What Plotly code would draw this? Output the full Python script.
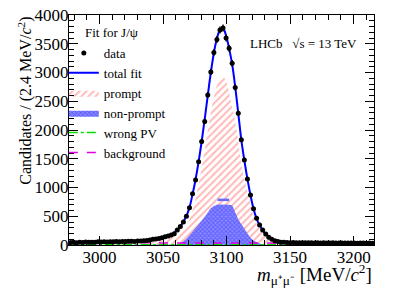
import numpy as np
import plotly.graph_objects as go

# ---- data (bin centres of 2.4 MeV bins, 2976-3216 MeV) ----
bin_lo = 2976.0
bin_w = 2.4
n_bins = 100
mass = bin_lo + bin_w * (np.arange(n_bins) + 0.5)

data_counts = [
    42, 47, 40, 49, 44, 52, 46, 50, 48, 55,
    51, 57, 53, 58, 55, 61, 57, 62, 59, 64,
    66, 63, 70, 68, 74, 79, 86, 99, 105, 112,
    127, 144, 156, 172, 195, 261, 320, 400, 500, 650,
    890, 1130, 1450, 1800, 2150, 2610, 3010, 3350, 3575, 3740,
    3775, 3600, 3420, 3160, 2740, 2290, 1830, 1480, 1150, 870,
    630, 465, 350, 260, 190, 136, 100, 76, 60, 50,
    46, 44, 41, 43, 39, 40, 38, 41, 37, 39,
    36, 38, 35, 37, 36, 34, 37, 35, 33, 36,
    34, 35, 33, 34, 32, 35, 33, 31, 34, 32,
]

total_fit = [
    45, 45, 46, 46, 47, 47, 48, 48, 49, 50,
    50, 51, 52, 53, 54, 55, 56, 57, 58, 60,
    62, 64, 67, 70, 74, 79, 85, 92, 101, 112,
    126, 142, 160, 183, 215, 260, 325, 405, 505, 650,
    880, 1140, 1450, 1800, 2190, 2600, 3000, 3340, 3590, 3740,
    3770, 3640, 3420, 3140, 2750, 2290, 1830, 1470, 1150, 870,
    630, 460, 345, 255, 188, 138, 102, 78, 62, 52,
    47, 45, 43, 42, 41, 40, 39, 39, 38, 38,
    37, 37, 36, 36, 36, 35, 35, 35, 34, 34,
    34, 34, 33, 33, 33, 33, 32, 32, 32, 32,
]

prompt = [
    5, 5, 6, 6, 7, 7, 8, 8, 9, 10,
    10, 11, 12, 13, 14, 15, 16, 17, 18, 20,
    20, 22, 25, 28, 32, 37, 43, 50, 59, 70,
    84, 100, 118, 141, 173, 210, 265, 305, 355, 440,
    610, 810, 1060, 1340, 1660, 1990, 2300, 2580, 2780, 2900,
    2930, 2850, 2650, 2400, 2150, 1800, 1415, 1155, 925, 710,
    515, 375, 285, 210, 149, 101, 65, 41, 25, 15,
    10, 8, 6, 6, 5, 5, 5, 4, 4, 4,
    4, 4, 3, 3, 3, 3, 3, 3, 3, 3,
    2, 2, 2, 2, 2, 2, 2, 2, 2, 2,
]

non_prompt = [
    2, 2, 2, 2, 2, 2, 2, 2, 2, 2,
    2, 2, 2, 2, 2, 2, 2, 2, 2, 2,
    2, 2, 2, 2, 2, 2, 2, 2, 2, 2,
    2, 2, 2, 2, 2, 10, 20, 60, 110, 170,
    230, 290, 350, 420, 490, 570, 640, 680, 700, 705,
    705, 700, 700, 690, 560, 450, 360, 280, 190, 125,
    80, 50, 25, 10, 4, 2, 2, 2, 2, 2,
    2, 2, 2, 2, 2, 2, 2, 2, 2, 2,
    2, 2, 2, 2, 2, 2, 2, 2, 2, 2,
    2, 2, 2, 2, 2, 2, 2, 2, 2, 2,
]

# small detached cap of the non-prompt peak
np_cap_mass = [3093.0, 3102.0]
np_cap_vals = [785, 785]

bkg_mass = [2976.0, 3216.0]
bkg_vals = [40, 29]

wrongpv_mass = [2976.0, 3216.0]
wrongpv_vals = [6, 5]

err = np.sqrt(np.array(data_counts, dtype=float))

serif = "Liberation Serif"

fig = go.Figure()

fig.add_trace(go.Scatter(
    x=mass, y=prompt, mode="lines", line=dict(color="rgba(0,0,0,0)", width=0),
    fill="tozeroy", fillcolor="rgba(255,255,255,0)",
    fillpattern=dict(shape="/", fgcolor="#ff7070", bgcolor="rgba(255,255,255,0)",
                     size=5, solidity=0.4),
    name="prompt", line_shape="spline"))

fig.add_trace(go.Scatter(
    x=mass, y=non_prompt, mode="lines", line=dict(color="rgba(0,0,0,0)", width=0),
    fill="tozeroy", fillcolor="#8080ff",
    fillpattern=dict(shape="x", fgcolor="#3030ff", bgcolor="#8a8aff",
                     size=3, solidity=0.5),
    name="non-prompt"))

fig.add_trace(go.Scatter(
    x=np_cap_mass, y=np_cap_vals, mode="lines",
    line=dict(color="#6a6aff", width=2.5), showlegend=False, hoverinfo="skip"))

fig.add_trace(go.Scatter(
    x=wrongpv_mass, y=wrongpv_vals, mode="lines",
    line=dict(color="#00e000", width=1.5, dash="dashdot"), name="wrong PV"))

fig.add_trace(go.Scatter(
    x=bkg_mass, y=bkg_vals, mode="lines",
    line=dict(color="#e000e0", width=1.5, dash="dash"), name="background"))

fig.add_trace(go.Scatter(
    x=mass, y=total_fit, mode="lines", line=dict(color="#0000ff", width=2),
    line_shape="spline", name="total fit"))

fig.add_trace(go.Scatter(
    x=mass, y=data_counts, mode="markers",
    marker=dict(color="black", size=5),
    error_y=dict(type="data", array=err, color="black", thickness=1.3, width=0),
    error_x=dict(type="constant", value=bin_w / 2, color="black", thickness=1.3, width=0),
    name="data"))

fig.update_layout(
    width=407, height=292,
    margin=dict(l=69, r=33, t=15, b=47, autoexpand=False),
    paper_bgcolor="white", plot_bgcolor="white",
    font=dict(family=serif, size=16, color="black"),
    showlegend=True,
    legend=dict(
        x=-0.017, y=0.9, xanchor="left", yanchor="top",
        bgcolor="rgba(0,0,0,0)", borderwidth=0,
        font=dict(family=serif, size=13),
        traceorder="normal", itemwidth=30, tracegroupgap=0,
    ),
    xaxis=dict(
        range=[2976, 3216], showgrid=False, zeroline=False, automargin=False,
        showline=True, linecolor="black", linewidth=1, mirror="allticks",
        ticks="inside", ticklen=9, tickcolor="black",
        tick0=3000, dtick=50, ticklabelstandoff=-3, ticklabeloverflow="allow",
        minor=dict(ticks="inside", ticklen=5, dtick=10, tickcolor="black", showgrid=False),
        tickfont=dict(family=serif, size=17),
    ),
    yaxis=dict(
        range=[0, 4000], showgrid=False, zeroline=False, automargin=False,
        showline=True, linecolor="black", linewidth=1, mirror="allticks",
        ticks="inside", ticklen=9, tickcolor="black",
        tick0=0, dtick=500, ticklabelstandoff=-4, ticklabeloverflow="allow",
        minor=dict(ticks="inside", ticklen=5, dtick=100, tickcolor="black", showgrid=False),
        tickfont=dict(family=serif, size=17),
    ),
)

# reorder legend to match reference
order = ["data", "total fit", "prompt", "non-prompt", "wrong PV", "background"]
for t in fig.data:
    if t.name in order:
        t.legendrank = order.index(t.name) + 1

fig.add_annotation(
    text="Fit for J/ψ",
    xref="paper", yref="paper", x=0.046, y=0.926, xanchor="left", yanchor="middle",
    showarrow=False, font=dict(family=serif, size=13))

fig.add_annotation(
    text="Candidates / (2.4 MeV/<i>c</i><sup>2</sup>)",
    xref="paper", yref="paper", x=-0.145, y=1.0, xanchor="center", yanchor="top",
    textangle=-90, showarrow=False, font=dict(family=serif, size=16))

fig.add_annotation(
    text="<i>m</i><sub>μ⁺μ⁻</sub> [MeV/<i>c</i><sup>2</sup>]",
    xref="paper", yref="paper", x=1.0, y=-0.13, xanchor="right", yanchor="middle",
    showarrow=False, font=dict(family=serif, size=19))

fig.add_annotation(
    text="LHCb   √s = 13 TeV",
    xref="paper", yref="paper", x=0.95, y=0.874, xanchor="right", yanchor="middle",
    showarrow=False, font=dict(family=serif, size=13))

# remove the default 8px page margin so the figure fills the window
fig.write_html("out.html", config={"displayModeBar": False},
               post_script="document.body.style.margin='0px';")
